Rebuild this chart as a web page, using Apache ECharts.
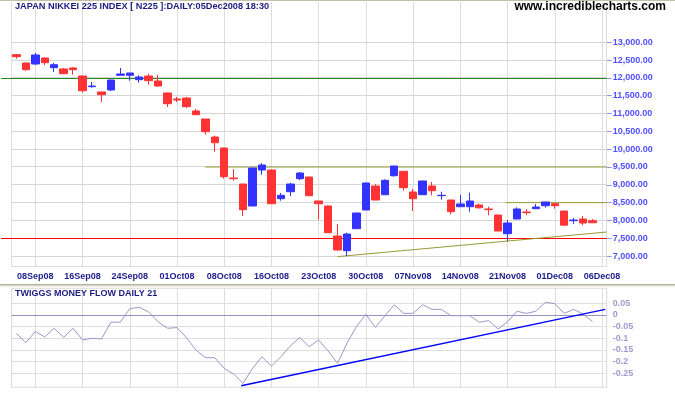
<!DOCTYPE html>
<html><head><meta charset="utf-8">
<script src="https://cdn.jsdelivr.net/npm/echarts@6/dist/echarts.min.js"></script>
<style>html,body{margin:0;padding:0;background:#fff}#c{width:675px;height:395px}</style>
</head><body><div id="c"></div>
<script>
// ---------- DATA ----------
const dates = ['04Sep08','05Sep08','08Sep08','09Sep08','10Sep08','11Sep08','12Sep08','16Sep08','17Sep08','18Sep08','19Sep08','22Sep08','24Sep08','25Sep08','26Sep08','29Sep08','30Sep08',
'01Oct08','02Oct08','03Oct08','06Oct08','07Oct08','08Oct08','09Oct08','10Oct08','14Oct08','15Oct08','16Oct08','17Oct08','20Oct08','21Oct08','22Oct08','23Oct08','24Oct08','27Oct08','28Oct08','29Oct08','30Oct08','31Oct08',
'04Nov08','05Nov08','06Nov08','07Nov08','10Nov08','11Nov08','12Nov08','13Nov08','14Nov08','17Nov08','18Nov08','19Nov08','20Nov08','21Nov08','25Nov08','26Nov08','27Nov08','28Nov08',
'01Dec08','02Dec08','03Dec08','04Dec08','05Dec08','06Dec08'];
const tickLabels = ['08Sep08','16Sep08','24Sep08','01Oct08','08Oct08','16Oct08','23Oct08','30Oct08','07Nov08','14Nov08','21Nov08','01Dec08','06Dec08'];
const openP  = [12652,12419,12391,12559,12287,12251,12279,12054,11754,11605,11661,12074,12074,11950,12054,11914,11577,11408,11436,11072,10847,10342,10033,9191,9022,8405,9415,9415,8610,8806,9171,9219,8545,8405,7563,7150,7768,8293,8966,8722,9255,9379,8798,8722,8966,8695,8573,8385,8385,8433,8321,8152,7627,8040,8237,8330,8413,8470,8264,7992,8040,7992];
const closeP = [12596,12231,12644,12427,12371,12119,12231,11641,11773,11529,11942,12110,12138,12026,11922,11773,11276,11380,11192,10968,10491,10181,9227,9171,8301,9472,9556,8469,8705,9022,9331,8694,8469,7655,7170,7619,8208,9051,8573,9126,9528,8919,8610,9107,8834,8705,8245,8461,8545,8355,8302,7703,7928,8321,8218,8377,8517,8413,7867,8012,7928,7935];
const lowP   = [12540,12203,12363,12363,12166,12110,12091,11585,11726,11324,11633,12074,11922,11866,11810,11754,11184,11324,11156,10960,10406,9929,9171,9115,8124,8400,9284,8465,8554,8686,9135,8690,8020,7650,7151,7001,7765,8290,8570,8720,9227,8834,8264,8720,8705,8582,8161,8383,8245,8330,8144,7700,7414,8038,8144,8328,8358,8330,7865,7905,7867,7928];
const highP  = [12672,12430,12700,12570,12427,12279,12307,12060,11886,11610,11950,12279,12140,12074,12119,12091,11580,11465,11465,11128,10850,10378,10040,9443,9025,9475,9612,9418,8770,9059,9359,9222,8548,8408,7899,7656,8210,9055,9018,9154,9530,9382,8882,9110,9079,8806,8576,8714,8778,8470,8385,8155,8012,8368,8321,8461,8520,8472,8266,8068,8124,8040];
const twiggs = [-0.079,-0.119,-0.071,-0.094,-0.057,-0.096,-0.057,-0.107,-0.100,-0.103,
-0.031,-0.031,0.027,0.033,0.013,-0.029,-0.057,-0.054,-0.097,-0.150,
-0.183,-0.183,-0.229,-0.253,-0.293,-0.229,-0.179,-0.219,-0.179,-0.133,
-0.096,-0.136,-0.107,-0.154,-0.207,-0.121,-0.050,0.003,-0.053,-0.004,
0.044,0.007,0.007,0.044,0.024,0.024,-0.003,-0.003,-0.003,-0.031,
-0.024,-0.060,-0.029,0.016,0.007,0.016,0.054,0.049,0.007,0.024,
0.004,-0.029];
const priceTicks = [7000,7500,8000,8500,9000,9500,10000,10500,11000,11500,12000,12500,13000];
const flowTicks = [-0.25,-0.2,-0.15,-0.1,-0.05,0,0.05];
const levelLines = [12000, 7500];           // full-width support / resistance
const levelColors = ['#228b22', '#ff0000'];
const oliveLines = [                       // [dateIndex, price]
  [[20, 9500], [62.5, 9500]],
  [[51.8, 8500], [62.5, 8500]],
  [[34, 6985], [62.5, 7675]]
];
const flowZero = [0];
const flowTrend = [[23.8, -0.303], [62.35, 0.024]];

// ---------- CHART ----------
const FF = '"Liberation Sans", Arial, sans-serif';
const tickIdx = tickLabels.map(l => dates.indexOf(l));
const xMin = -0.5, xMax = dates.length - 0.5;
const gridLines = [xMin].concat(tickIdx, [xMax]);
const GRID = '#dddddd';
const P_MIN = 6721, P_MAX = 14131;

const chart = echarts.init(document.getElementById('c'), null, {renderer: 'canvas'});
const fmtPrice = v => Number(v).toLocaleString('en-US', {minimumFractionDigits: 2, maximumFractionDigits: 2});
const hLines = (vals, color, z) => ({silent: true, symbol: 'none', animation: false, label: {show: false}, z: z,
  data: vals.map((v, k) => ({yAxis: v, lineStyle: {color: Array.isArray(color) ? color[k] : color, width: 1, type: 'solid'}}))});

const option = {
  animation: false,
  backgroundColor: '#ffffff',
  title: [
    {text: 'JAPAN NIKKEI 225 INDEX [ N225 ]:DAILY:05Dec2008 18:30', left: 15, top: 1.5, padding: 0,
     textStyle: {fontSize: 9.2, fontWeight: 'bold', color: '#1c1c80', fontFamily: FF}},
    {text: 'www.incrediblecharts.com', right: 9, top: 1, padding: 0,
     textStyle: {fontSize: 12, fontWeight: 'bold', color: '#000000', fontFamily: FF}},
    {text: 'TWIGGS MONEY FLOW DAILY 21', left: 15, top: 289.5, padding: 0,
     textStyle: {fontSize: 9, fontWeight: 'bold', color: '#1c1c80', fontFamily: FF}}
  ],
  graphic: [
    {type: 'rect', silent: true, shape: {x: 0, y: 0, width: 675, height: 1}, style: {fill: '#c4c0ac'}},
    {type: 'rect', silent: true, shape: {x: 0, y: 284, width: 675, height: 1}, style: {fill: '#b4b0a0'}},
    {type: 'rect', silent: true, shape: {x: 0, y: 285, width: 675, height: 1.5}, style: {fill: '#dcd8c8'}}
  ],
  grid: [
    {left: 11.7, right: 68.3, top: 2, bottom: 129, show: false},
    {left: 11.7, right: 68.3, top: 288.3, bottom: 7.7, show: true, borderColor: GRID, borderWidth: 1, backgroundColor: 'transparent'},
    {left: 1, right: 68.3, top: 2, bottom: 129, show: false}
  ],
  xAxis: [
    {type: 'value', gridIndex: 0, min: xMin, max: xMax,
     axisLine: {show: true, onZero: false, lineStyle: {color: GRID}},
     axisTick: {show: false, customValues: gridLines},
     splitLine: {show: true, lineStyle: {color: GRID, width: 1}},
     axisLabel: {show: true, customValues: tickIdx, margin: 6, formatter: v => dates[Math.round(v)],
       fontSize: 9, fontWeight: 'bold', color: '#1c1c8c', fontFamily: FF}},
    {type: 'value', gridIndex: 1, min: xMin, max: xMax,
     axisLine: {show: false, onZero: false},
     axisTick: {show: false, customValues: gridLines},
     splitLine: {show: true, lineStyle: {color: GRID, width: 1}},
     axisLabel: {show: false}},
    {type: 'value', gridIndex: 2, min: 0, max: 1, show: false, axisLine: {onZero: false}}
  ],
  yAxis: [
    {type: 'value', gridIndex: 0, position: 'right', min: P_MIN, max: P_MAX,
     axisLine: {show: false, onZero: false},
     axisTick: {show: true, length: 5, customValues: priceTicks, lineStyle: {color: '#9090ff'}},
     splitLine: {show: false},
     axisLabel: {customValues: priceTicks, margin: 6, formatter: fmtPrice,
       fontSize: 9, fontWeight: 'bold', color: '#5050ff', fontFamily: FF}},
    {type: 'value', gridIndex: 1, position: 'right', min: -0.31, max: 0.1144,
     axisLine: {show: false, onZero: false},
     axisTick: {show: false, customValues: flowTicks},
     splitLine: {show: true, lineStyle: {color: GRID, width: 1}},
     axisLabel: {customValues: flowTicks, margin: 6, formatter: v => String(v),
       fontSize: 9, fontWeight: 'bold', color: '#9c9cd0', fontFamily: FF}},
    {type: 'value', gridIndex: 2, min: P_MIN, max: P_MAX, show: false, axisLine: {onZero: false}}
  ],
  series: [
    // price grid lines (crisp, drawn through the axis scale), below levels and candles
    {type: 'custom', xAxisIndex: 0, yAxisIndex: 0, silent: true, z: 1, clip: false,
     data: priceTicks.map(v => [xMin, v]), encode: {x: 0, y: 1},
     renderItem: (params, api) => {
       const v = api.value(1);
       const a = api.coord([xMin, v]), b = api.coord([xMax, v]);
       const y = Math.round(a[1] - 0.5) + 0.5;
       return {type: 'line', silent: true, shape: {x1: a[0], y1: y, x2: b[0], y2: y}, style: {stroke: '#d6d6d6', lineWidth: 1}};
     }},
    // full-width support / resistance
    {type: 'line', xAxisIndex: 2, yAxisIndex: 2, data: [], silent: true, z: 2, markLine: hLines(levelLines, levelColors, 2)},
    ...oliveLines.map(seg => ({type: 'line', xAxisIndex: 0, yAxisIndex: 0, data: seg, symbol: 'none', silent: true, z: 2,
       lineStyle: {color: '#999933', width: 1}})),
    {type: 'candlestick', xAxisIndex: 0, yAxisIndex: 0, silent: true, z: 3, barWidth: 8,
     data: openP.map((o, i) => [i, o, closeP[i], lowP[i], highP[i]]),
     itemStyle: {color: '#3333ff', color0: '#ff3333', borderColor: '#3333ff', borderColor0: '#ff3333', borderWidth: 1}},
    {type: 'line', xAxisIndex: 1, yAxisIndex: 1, data: twiggs.map((v, i) => [i, v]), symbol: 'none', silent: true, z: 3,
     lineStyle: {color: '#9999cc', width: 1}, markLine: hLines(flowZero, '#9494c4', 2)},
    {type: 'line', xAxisIndex: 1, yAxisIndex: 1, data: flowTrend, symbol: 'none', silent: true, z: 4,
     lineStyle: {color: '#0000ff', width: 1.5}}
  ]
};
chart.setOption(option);
</script>
</body></html>
